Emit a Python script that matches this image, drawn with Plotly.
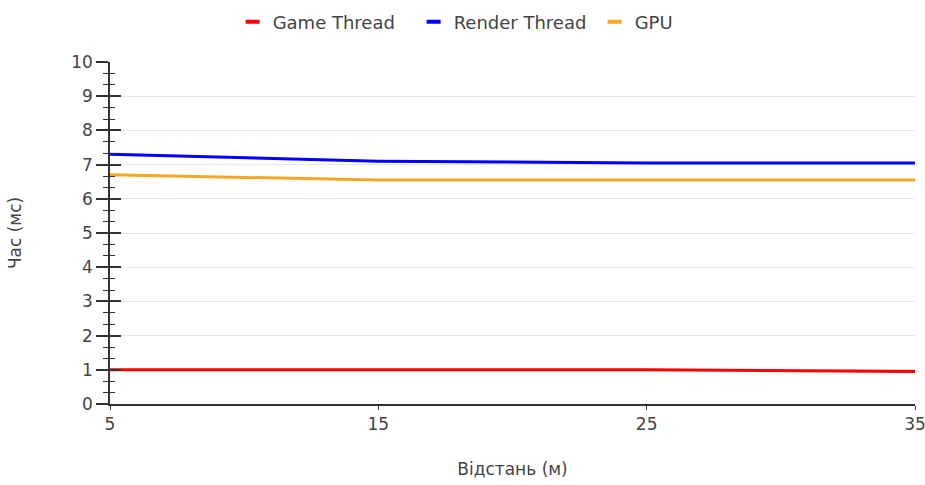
import plotly.graph_objects as go

distance = [5, 15, 25, 35]
game_thread = [1.0, 1.0, 1.0, 0.95]
render_thread = [7.3, 7.1, 7.05, 7.05]
gpu = [6.7, 6.55, 6.55, 6.55]

series = [
    ("Game Thread", game_thread, "#ff0000"),
    ("Render Thread", render_thread, "#0000ff"),
    ("GPU", gpu, "#f5a623"),
]

FONT = "DejaVu Sans, Arial, sans-serif"
TXT = "#444"

fig = go.Figure()
for name, vals, color in series:
    fig.add_trace(go.Scatter(x=distance, y=vals, mode="lines", name=name,
                             line=dict(color=color, width=3), showlegend=False,
                             legendgroup=name))
    fig.add_trace(go.Scatter(x=[None], y=[None], mode="markers", name=name,
                             marker=dict(symbol="line-ew-open", size=10, color=color,
                                         line=dict(color=color, width=4)),
                             legendgroup=name, showlegend=True))
# overlay axis carrier for inside ticks (crossing ticks)
fig.add_trace(go.Scatter(x=distance, y=game_thread, yaxis="y2", mode="lines",
                         line=dict(width=0, color="rgba(0,0,0,0)"), showlegend=False,
                         hoverinfo="skip"))

fig.update_layout(
    width=925, height=485,
    margin=dict(l=110, r=10, t=62, b=81, autoexpand=False),
    paper_bgcolor="white", plot_bgcolor="white",
    font=dict(family=FONT, size=17, color=TXT),
    legend=dict(orientation="h", xref="container", x=0.545, xanchor="center",
                yref="container", y=0.9546, yanchor="middle",
                font=dict(family=FONT, size=18, color=TXT), itemwidth=30,
                entrywidth=136, tracegroupgap=0),
    xaxis=dict(range=[5, 35], tickvals=distance, ticks="outside", ticklen=4,
               tickcolor="#333", showline=True, linecolor="#333", linewidth=1.5,
               showgrid=False, zeroline=False, automargin=False,
               ticklabeloverflow="allow",
               tickfont=dict(family=FONT, size=17, color=TXT),
               title=dict(text="Відстань (м)", standoff=30,
                          font=dict(family=FONT, size=17, color=TXT))),
    yaxis=dict(range=[0, 10], dtick=1, ticks="outside", ticklen=12, tickwidth=1.5,
               tickcolor="#333", showline=True, linecolor="#333", linewidth=1.5,
               showgrid=True, gridcolor="#e6e6e6", gridwidth=1, zeroline=False,
               automargin=False,
               tickfont=dict(family=FONT, size=17, color=TXT),
               minor=dict(dtick=1/3, ticks="outside", ticklen=5, tickcolor="#333",
                          tickwidth=1, showgrid=False),
               title=dict(text="Час (мс)", standoff=45,
                          font=dict(family=FONT, size=17, color=TXT))),
    yaxis2=dict(range=[0, 10], dtick=1, overlaying="y", side="left", anchor="x",
                ticks="inside", ticklen=11, tickwidth=1.5, tickcolor="#333",
                showticklabels=False, showgrid=False, zeroline=False, showline=False,
                automargin=False,
                minor=dict(dtick=1/3, ticks="inside", ticklen=5, tickcolor="#333",
                           tickwidth=1, showgrid=False)),
)

fig.write_html("out.html", config={"displayModeBar": False},
               post_script="document.body.style.margin='0';")
